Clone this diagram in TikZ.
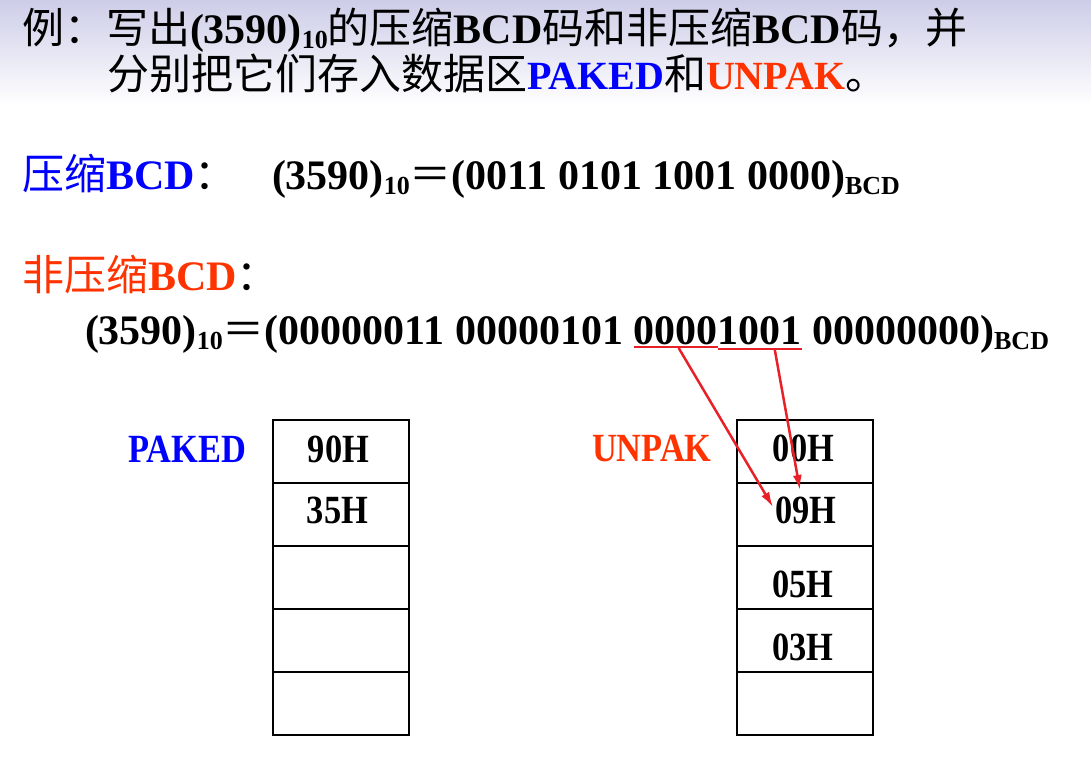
\documentclass[tikz,border=0pt]{standalone}
\usepackage{fontspec}
\usepackage{graphicx}
\setmainfont{Liberation Serif}
\newfontfamily\cjk{Noto Sans CJK SC}
\usetikzlibrary{arrows.meta}
\definecolor{pblue}{RGB}{0,0,255}
\definecolor{pred}{RGB}{255,51,0}
\definecolor{arred}{RGB}{232,32,40}
\definecolor{bgtop}{RGB}{205,205,232}
\newcommand\zh[1]{{\cjk\mdseries #1}}
\newcommand\sbs[1]{\raisebox{-5pt}{\fontsize{26}{26}\selectfont\bfseries #1}}
\newcommand\hs[2]{\scalebox{#1}[1]{#2}}
\newcommand\fs[1]{{\fontsize{40}{48}\selectfont #1}}
\begin{document}
\begin{tikzpicture}[x=1pt,y=-1pt,
  txt/.style={inner sep=0pt,outer sep=0pt,anchor=base west,font=\fontsize{42}{50}\selectfont\bfseries},
  ctxt/.style={inner sep=0pt,outer sep=0pt,anchor=base,font=\fontsize{40}{48}\selectfont\bfseries},
  cell/.style={draw,line width=2.5pt,minimum width=136pt,minimum height=63pt,inner sep=0pt,outer sep=0pt,anchor=north west},
  uline/.style={draw=arred,line width=2.5pt},
  arr/.style={draw=arred,line width=2.5pt,-{Latex[length=15pt,width=9pt]}}]
\useasboundingbox (0,0) rectangle (1091,764);
\shade[top color=bgtop,bottom color=white] (0,0) rectangle (1091,105);

\node[txt] (l1) at (22,43) {\zh{例：写出}(3590)\sbs{10}\zh{的压缩}BCD\zh{码和非压缩}BCD\zh{码，并}};
\node[txt] (l2) at (107,89) {\zh{分别把它们存入数据区}\fs{\textcolor{pblue}{PAKED}}\zh{和}\fs{\textcolor{pred}{UNPAK}}\zh{。}};

\node[txt,text=pblue] (c1) at (22,189) {\zh{压缩}BCD\textcolor{black}{\zh{：}}};
\node[txt] (c2) at (272,189) {(3590)\sbs{10}\zh{＝}(0011 0101 1001 0000)\sbs{BCD}};

\node[txt,text=pred] (n1) at (22,290) {\zh{非压缩}BCD\textcolor{black}{\zh{：}}};
\node[txt] (n2) at (85,344) {(3590)\sbs{10}\zh{＝}(00000011 00000101};
\node[txt] (u1) at ([xshift=10.5pt]n2.base east) {0000};
\node[txt] (u2) at (u1.base east) {1001};
\node[txt] (n3) at ([xshift=10.5pt]u2.base east) {00000000)\sbs{BCD}};
\draw[uline] ([yshift=-3pt]u1.base west) -- ([yshift=-3pt]u1.base east);
\draw[uline] ([yshift=-5pt]u2.base west) -- ([yshift=-5pt]u2.base east);

% memory cells
\node[cell] (p1) at (273,420) {};
\node[cell] (p2) at (p1.south west) {};
\node[cell] (p3) at (p2.south west) {};
\node[cell] (p4) at (p3.south west) {};
\node[cell] (p5) at (p4.south west) {};
\node[cell] (q1) at (737,420) {};
\node[cell] (q2) at (q1.south west) {};
\node[cell] (q3) at (q2.south west) {};
\node[cell] (q4) at (q3.south west) {};
\node[cell] (q5) at (q4.south west) {};

\node[ctxt,anchor=base west,text=pblue] (pl) at (128,462) {\hs{0.86}{PAKED}};
\node[ctxt,anchor=base west,text=pred] (ql) at (592,461) {\hs{0.86}{UNPAK}};

\node[ctxt] (p1t) at (338.5,462) {\hs{0.86}{90H}};
\node[ctxt] (p2t) at (337.5,523) {\hs{0.86}{35H}};
\node[ctxt] (q1t) at (803.5,461) {\hs{0.86}{00H}};
\node[ctxt] (q2t) at (806,523) {\hs{0.86}{09H}};
\node[ctxt] (q3t) at (803,597) {\hs{0.86}{05H}};
\node[ctxt] (q4t) at (803,660) {\hs{0.86}{03H}};

\coordinate (s1) at ([xshift=3pt,yshift=-4pt]u1.base);
\coordinate (s2) at ([xshift=15pt,yshift=-5pt]u2.base);
\coordinate (t1) at (773,507);
\coordinate (t2) at (800,490);
\draw[arr] (s1) -- (t1);
\draw[arr] (s2) -- (t2);
\end{tikzpicture}
\end{document}
